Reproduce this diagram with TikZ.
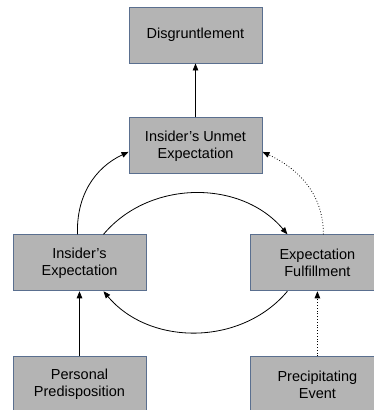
\documentclass[tikz,border=0pt]{standalone}
\usepackage{fontspec}
\setmainfont{Liberation Sans}
\usepackage{tikz}
\usetikzlibrary{arrows.meta}
\usetikzlibrary{positioning}
\definecolor{boxfill}{HTML}{B4B4B4}
\definecolor{boxline}{HTML}{5A6F8F}

\begin{document}
\begin{tikzpicture}[x=1pt, y=1pt,
      factor/.style ={rectangle, draw=boxline, line width=0.9pt, fill=boxfill, align=center,
                      minimum width=133pt, minimum height=56pt, inner sep=0pt,
                      font=\fontsize{14.5}{17}\selectfont},
      link/.style ={-{Triangle[length=7pt,width=5.5pt]}, line width=0.8pt},
      weak/.style ={link, dotted},
      node distance=54pt
    ]
    \useasboundingbox (0,0) rectangle (374,-410);
    \node [factor] (dis) at (195.5,-35) {Disgruntlement} ;
    \node [factor] (unmet) [below=of dis] {Insider's Unmet\\Expectation} ;
    \node [factor] (expect) [below=60pt of unmet, xshift=-116pt] {Insider's\\Expectation} ;
    \node [factor] (fulfil) [right=104pt of expect] {Expectation\\Fulfillment} ;
    \node [factor] (person) [below=65pt of expect] {Personal\\Predisposition} ;
    \node [factor] (event) [below=65pt of fulfil] {Precipitating\\Event} ;

    \draw [link] (unmet) -- (dis) ;
    \draw [link] ([xshift=-2pt]expect.north) to[out=92, in=205] ([yshift=-6pt]unmet.west) ;
    \draw [weak] ([xshift=6pt]fulfil.north) to[out=90, in=-25] ([yshift=-6pt]unmet.east) ;
    \draw [link] ([xshift=24pt]expect.north) to[out=50, in=130] ([xshift=-30pt]fulfil.north) ;
    \draw [link] ([xshift=-30pt]fulfil.south) to[out=-130, in=-50] ([xshift=24pt]expect.south) ;
    \draw [link] (person) -- (expect) ;
    \draw [weak] (event) -- (fulfil) ;
  \end{tikzpicture}
\end{document}
